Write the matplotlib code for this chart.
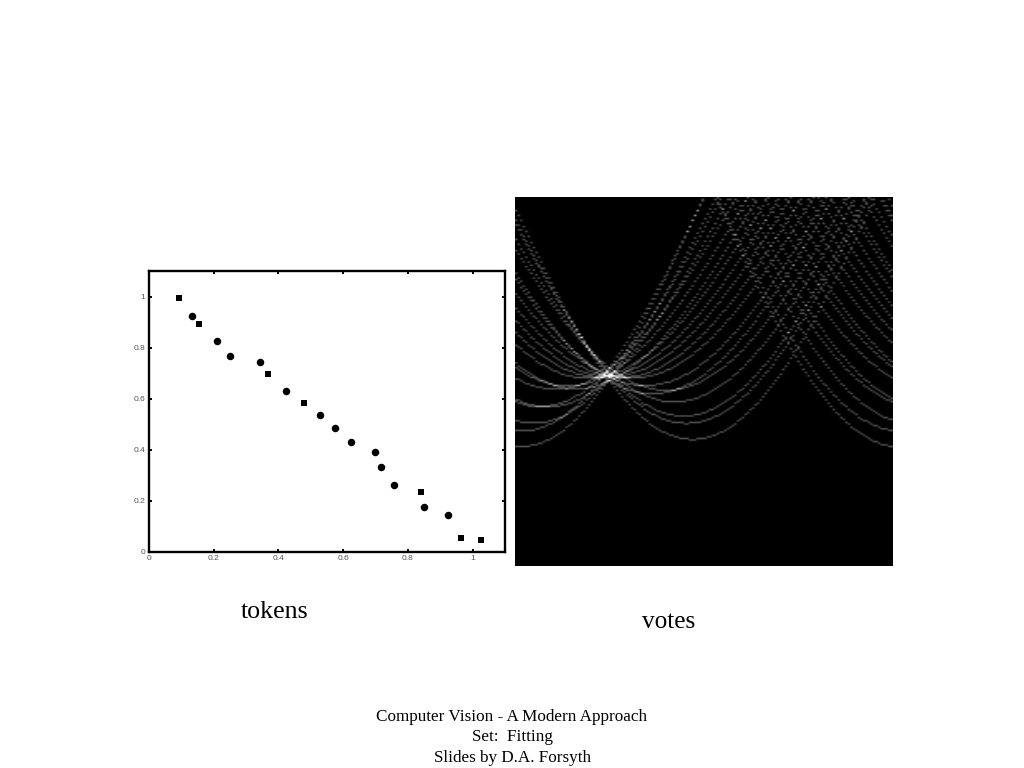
import numpy as np
import matplotlib
matplotlib.use("Agg")
import matplotlib.pyplot as plt

# Token positions
token_x = [0.093, 0.134, 0.153, 0.209, 0.250, 0.343, 0.367, 0.422, 0.479, 0.529,
           0.576, 0.624, 0.697, 0.716, 0.757, 0.839, 0.851, 0.923, 0.963, 1.025]
token_y = [0.993, 0.925, 0.893, 0.825, 0.766, 0.744, 0.697, 0.629, 0.584, 0.535,
           0.486, 0.431, 0.392, 0.331, 0.263, 0.233, 0.176, 0.145, 0.054, 0.048]
token_marker = ['s', 'o', 's', 'o', 'o', 'o', 's', 'o', 's', 'o',
                'o', 'o', 'o', 'o', 'o', 's', 'o', 'o', 's', 's']
tick_values = [0, 0.2, 0.4, 0.6, 0.8, 1]
tick_labels = ['0', '0.2', '0.4', '0.6', '0.8', '1']
footer_lines = ['Computer Vision - A Modern Approach', 'Set:  Fitting', 'Slides by D.A. Forsyth']

W, H = 1024, 768
fig = plt.figure(figsize=(W / 100, H / 100), dpi=100, facecolor='white')
plt.rcParams['font.family'] = ['Liberation Serif', 'DejaVu Serif']


def px_axes(x0, y0, x1, y1):
    return fig.add_axes([x0 / W, 1 - y1 / H, (x1 - x0) / W, (y1 - y0) / H])


# Tokens
ax = px_axes(149, 271, 505, 552)
for x, y, m in zip(token_x, token_y, token_marker):
    ax.plot([x], [y], m, color='black', ms=5.0 if m == 's' else 5.4, mew=0)
ax.set_xlim(0, 1.1)
ax.set_ylim(0, 1.1)
ax.set_xticks(tick_values, tick_labels)
ax.set_yticks(tick_values, tick_labels)
ax.tick_params(direction='in', length=2.5, width=1.4, top=True, right=True, color='black',
               labelsize=6, labelcolor='#555555', pad=2.5)
for lab in ax.get_xticklabels() + ax.get_yticklabels():
    lab.set_family(['Liberation Sans', 'DejaVu Sans'])
for s in ax.spines.values():
    s.set_linewidth(1.7)

# Votes: Hough accumulator of the tokens
n_theta, n_r = 150, 230
r_min, r_max = 0.051, 1.492
theta = (np.arange(n_theta) + 0.5) / n_theta * np.pi
acc = np.zeros((n_r, n_theta))
for x, y in zip(token_x, token_y):
    r = np.abs(x * np.cos(theta) + y * np.sin(theta))
    row = np.floor((r - r_min) / (r_max - r_min) * n_r).astype(int)
    ok = (row >= 0) & (row < n_r)
    np.add.at(acc, (row[ok], np.arange(n_theta)[ok]), 1)

av = px_axes(515, 197, 893, 566)
av.imshow(acc, cmap='gray', vmin=0, vmax=3.2, aspect='auto', interpolation='bilinear',
          extent=(0, np.pi, r_max, r_min))
av.axis('off')

# Captions
fig.text(275 / W, 1 - 612.5 / H, 'tokens', fontsize=18.6, ha='center', va='center', color='black')
fig.text(669 / W, 1 - 621.5 / H, 'votes', fontsize=18.2, ha='center', va='center', color='black')
for line, yp in zip(footer_lines, [717, 737, 758]):
    fig.text(512 / W, 1 - yp / H, line, fontsize=12.3, ha='center', va='center', color='black')

fig.savefig('out.png', dpi=100, facecolor='white')
